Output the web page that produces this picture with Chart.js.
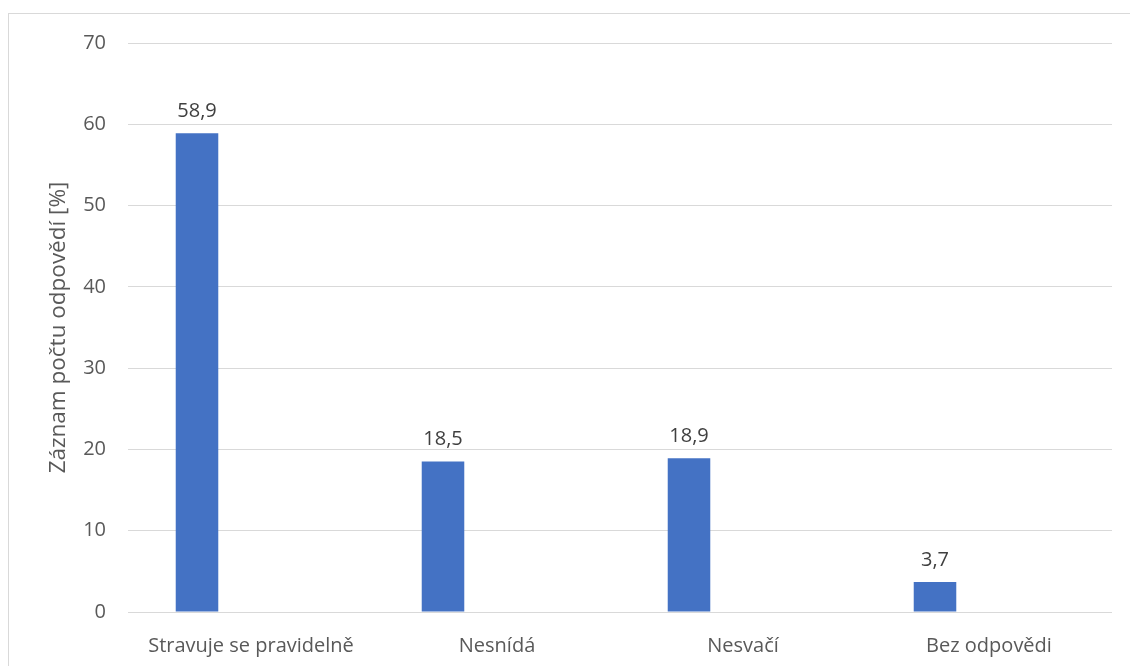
<!DOCTYPE html>
<html>
<head>
<meta charset="utf-8">
<script src="https://cdn.jsdelivr.net/npm/chart.js@4"></script>
<style>
  html, body { margin: 0; padding: 0; background: #fff; }
  #frame {
    position: absolute; left: 8px; top: 13px;
    width: 1140px; height: 700px;
    border: 1px solid #d9d9d9;
  }
  #wrap { position: absolute; left: 0; top: 0; width: 1130px; height: 666px; }
</style>
</head>
<body>
<div id="frame"></div>
<div id="wrap"><canvas id="myChart"></canvas></div>
<script>
// values
var categories = ["Stravuje se pravidelně", "Nesnídá", "Nesvačí", "Bez odpovědi"];
var answerShare = [58.9, 18.5, 18.9, 3.7];
var emptySeries = [null, null, null, null]; // second (empty) series keeps bars left of centre
var yTicks = [0, 10, 20, 30, 40, 50, 60, 70];

var textColor = "#595959";
var fontFamily = "'Open Sans', 'Noto Sans', sans-serif";

// draws the "58,9" style labels above each bar
var valueLabels = {
  id: "valueLabels",
  afterDatasetsDraw: function(chart) {
    var ctx = chart.ctx;
    var meta = chart.getDatasetMeta(0);
    ctx.save();
    ctx.font = "20px " + fontFamily;
    ctx.fillStyle = "#404040";
    ctx.textAlign = "center";
    ctx.textBaseline = "bottom";
    meta.data.forEach(function(bar, i) {
      var txt = answerShare[i].toFixed(1).replace(".", ",");
      ctx.fillText(txt, bar.x, bar.y - 12);
    });
    ctx.restore();
  }
};

var ctx2 = document.getElementById("myChart").getContext("2d");
var myChart = new Chart(ctx2, {
  type: "bar",
  data: {
    labels: categories,
    datasets: [{
      data: answerShare,
      backgroundColor: "#4472C4",
      borderWidth: 0,
      barPercentage: 0.394,
      categoryPercentage: 0.878
    }, {
      data: emptySeries,
      backgroundColor: "#ED7D31",
      barPercentage: 0.394,
      categoryPercentage: 0.878
    }]
  },
  plugins: [valueLabels],
  options: {
    responsive: true,
    maintainAspectRatio: false,
    animation: false,
    layout: { padding: { top: 43, right: 18, left: 0, bottom: 0 } },
    plugins: {
      legend: { display: false },
      tooltip: { enabled: false }
    },
    scales: {
      x: {
        grid: { display: false },
        border: { display: false },
        ticks: {
          color: textColor,
          font: { family: fontFamily, size: 20 },
          padding: 14,
          maxRotation: 0
        },
        afterFit: function(scale) { scale.height = 54; }
      },
      y: {
        min: 0,
        max: 70,
        afterBuildTicks: function(scale) {
          scale.ticks = yTicks.map(function(v) { return { value: v }; });
        },
        grid: { color: "#d9d9d9", lineWidth: 1, drawTicks: false },
        border: { display: false },
        ticks: {
          color: textColor,
          font: { family: fontFamily, size: 20 },
          padding: 22
        },
        title: {
          display: true,
          text: "Záznam počtu odpovědí [%]",
          color: textColor,
          font: { family: fontFamily, size: 22.5 },
          padding: { top: 45, bottom: 0 }
        },
        afterFit: function(scale) { scale.width = 128; }
      }
    }
  }
});
</script>
</body>
</html>
